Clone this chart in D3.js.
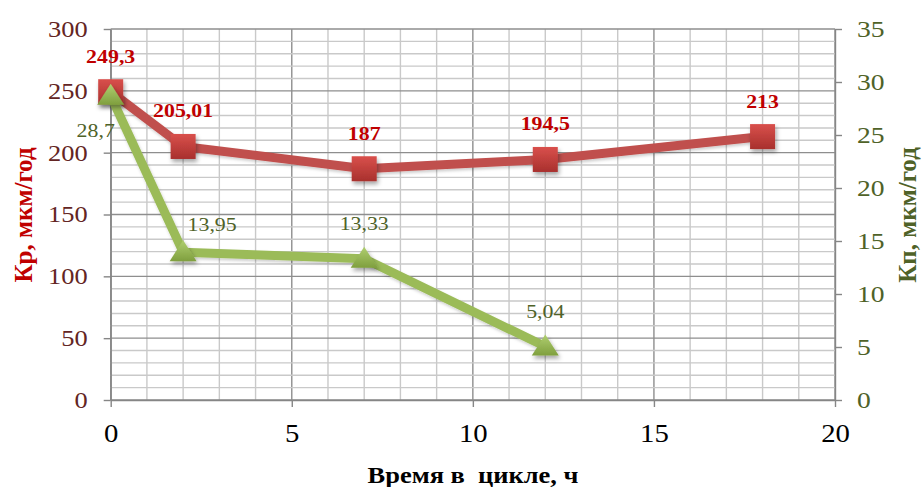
<!DOCTYPE html>
<html>
<head>
<meta charset="utf-8">
<script src="https://cdn.jsdelivr.net/npm/d3@7"></script>
<style>
  html, body { margin: 0; padding: 0; background: #fff; }
  svg { display: block; }
  text { font-family: "Liberation Serif", "Times New Roman", serif; }
</style>
</head>
<body>
<svg id="chart" width="924" height="487"></svg>
<script>
// Time in cycle, h
const timeKr = [0, 2, 7, 12, 18];
// Kr, µm/year (left axis)
const krValues = [249.3, 205.01, 187, 194.5, 213];
const timeKp = [0, 2, 7, 12];
// Kp, µm/year (right axis)
const kpValues = [28.7, 13.95, 13.33, 5.04];

const xTicks = [0, 5, 10, 15, 20];
const leftTicks = [0, 50, 100, 150, 200, 250, 300];
const rightTicks = [0, 5, 10, 15, 20, 25, 30, 35];

const xTitle = "Время в  цикле, ч";
const leftTitle = "Кр, мкм/год";
const rightTitle = "Кп, мкм/год";

const svg = d3.select("#chart");
const stretch = 1.15;

const x = d3.scaleLinear().domain([0, 20]).range([110.7, 835]);
const yL = d3.scaleLinear().domain([0, 300]).range([400, 29]);
const yR = d3.scaleLinear().domain([0, 35]).range([400, 29]);

// widen glyphs horizontally around their anchor point
function widen(sel) {
  sel.each(function () {
    const t = d3.select(this);
    const tx = +t.attr("x") || 0, ty = +t.attr("y") || 0;
    t.attr("x", 0).attr("y", 0).attr("transform", `translate(${tx},${ty}) scale(${stretch},1)`);
  });
}

const defs = svg.append("defs");
const sqGrad = defs.append("linearGradient").attr("id", "sqGrad").attr("x1", 0).attr("y1", 0).attr("x2", 0).attr("y2", 1);
sqGrad.append("stop").attr("offset", "0%").attr("stop-color", "#d9504c");
sqGrad.append("stop").attr("offset", "100%").attr("stop-color", "#a8302d");
const trGrad = defs.append("linearGradient").attr("id", "trGrad").attr("x1", 0).attr("y1", 0).attr("x2", 0).attr("y2", 1);
trGrad.append("stop").attr("offset", "0%").attr("stop-color", "#b0cf70");
trGrad.append("stop").attr("offset", "100%").attr("stop-color", "#7f9f3e");
const shadow = defs.append("filter").attr("id", "shadow").attr("x", "-50%").attr("y", "-50%").attr("width", "200%").attr("height", "200%");
shadow.append("feDropShadow").attr("dx", 1.5).attr("dy", 3).attr("stdDeviation", 2).attr("flood-color", "#000").attr("flood-opacity", 0.35);
const lineShadow = defs.append("filter").attr("id", "lineShadow").attr("x", "-10%").attr("y", "-30%").attr("width", "120%").attr("height", "160%");
lineShadow.append("feDropShadow").attr("dx", 1).attr("dy", 2).attr("stdDeviation", 1.5).attr("flood-color", "#000").attr("flood-opacity", 0.2);

// grid
const grid = svg.append("g");
grid.selectAll("line.v").data(d3.range(0, 21, 1)).join("line")
  .attr("x1", d => x(d)).attr("x2", d => x(d))
  .attr("y1", yL(300)).attr("y2", yL(0))
  .attr("stroke", d => d % 5 === 0 ? "#8e8e8e" : "#c9c9c9")
  .attr("stroke-width", 1.4);
grid.selectAll("line.h").data(d3.range(0, 301, 10)).join("line")
  .attr("x1", x(0)).attr("x2", x(20))
  .attr("y1", d => yL(d)).attr("y2", d => yL(d))
  .attr("stroke", d => d % 50 === 0 ? "#8e8e8e" : "#c9c9c9")
  .attr("stroke-width", 1.4);

// axes
function styleAxis(g, color, size) {
  g.select(".domain").attr("stroke", "#868686").attr("stroke-width", 1.4);
  g.selectAll(".tick line").attr("stroke", "#868686").attr("stroke-width", 1.4);
  g.selectAll(".tick text").attr("fill", color).style("font-size", size + "px")
    .style("font-family", '"Liberation Serif", "Times New Roman", serif');
}

const gLeft = svg.append("g").attr("transform", `translate(${x(0)},0)`)
  .call(d3.axisLeft(yL).tickValues(leftTicks).tickSize(7).tickSizeOuter(0).tickPadding(16));
styleAxis(gLeft, "#632523", 23);
widen(gLeft.selectAll(".tick text"));

const gRight = svg.append("g").attr("transform", `translate(${x(20)},0)`)
  .call(d3.axisRight(yR).tickValues(rightTicks).tickSize(7).tickSizeOuter(0).tickPadding(15));
styleAxis(gRight, "#4f6228", 24);
widen(gRight.selectAll(".tick text"));

const gBottom = svg.append("g").attr("transform", `translate(0,${yL(0)})`)
  .call(d3.axisBottom(x).tickValues(xTicks).tickSize(7).tickSizeOuter(0).tickPadding(17));
styleAxis(gBottom, "#000", 25);
widen(gBottom.selectAll(".tick text"));

// Kr series
const krData = timeKr.map((t, i) => ({ t, v: krValues[i] }));
const kpData = timeKp.map((t, i) => ({ t, v: kpValues[i] }));

svg.append("path").datum(krData)
  .attr("d", d3.line().x(d => x(d.t)).y(d => yL(d.v)))
  .attr("fill", "none").attr("stroke", "#c0504d").attr("stroke-width", 9)
  .attr("stroke-linejoin", "round").attr("filter", "url(#lineShadow)");
svg.append("g").selectAll("rect").data(krData).join("rect")
  .attr("x", d => x(d.t) - 12.5).attr("y", d => yL(d.v) - 12.5)
  .attr("width", 25).attr("height", 25)
  .attr("fill", "url(#sqGrad)").attr("filter", "url(#shadow)");

// Kp series
svg.append("path").datum(kpData)
  .attr("d", d3.line().x(d => x(d.t)).y(d => yR(d.v)))
  .attr("fill", "none").attr("stroke", "#9bbb59").attr("stroke-width", 9)
  .attr("stroke-linejoin", "round").attr("filter", "url(#lineShadow)");
svg.append("g").selectAll("path").data(kpData).join("path")
  .attr("d", d => {
    const cx = x(d.t), cy = yR(d.v);
    return `M${cx},${cy - 12}L${cx + 13.5},${cy + 9}L${cx - 13.5},${cy + 9}Z`;
  })
  .attr("fill", "url(#trGrad)").attr("filter", "url(#shadow)");

// value labels
const fmt = v => String(v).replace(".", ",");
const krLabels = svg.append("g").selectAll("text").data(krData).join("text")
  .attr("x", d => x(d.t)).attr("y", d => yL(d.v) - 29)
  .attr("text-anchor", "middle").attr("fill", "#c00000")
  .attr("font-weight", "bold").style("font-size", "19px")
  .text(d => fmt(d.v));
widen(krLabels);

// per-label nudges for the Kp values
const kpShift = [[-15, 41], [29, -21], [0, -29], [0, -29]];
const kpLabels = svg.append("g").selectAll("text").data(kpData).join("text")
  .attr("x", (d, i) => x(d.t) + kpShift[i][0]).attr("y", (d, i) => yR(d.v) + kpShift[i][1])
  .attr("text-anchor", "middle").attr("fill", "#4f6228")
  .style("font-size", "19px")
  .text(d => fmt(d.v));
widen(kpLabels);

// axis titles
svg.append("text").attr("transform", `translate(32,215) rotate(-90)`)
  .attr("text-anchor", "middle").attr("fill", "#c00000").attr("font-weight", "bold")
  .style("font-size", "25px").text(leftTitle);
svg.append("text").attr("transform", `translate(916,215) rotate(-90)`)
  .attr("text-anchor", "middle").attr("fill", "#4f6228").attr("font-weight", "bold")
  .style("font-size", "25px").text(rightTitle);
const xt = svg.append("text").attr("x", 473).attr("y", 483)
  .attr("text-anchor", "middle").attr("fill", "#000").attr("font-weight", "bold")
  .style("font-size", "23px").style("white-space", "pre").text(xTitle);
widen(xt);
</script>
</body>
</html>
